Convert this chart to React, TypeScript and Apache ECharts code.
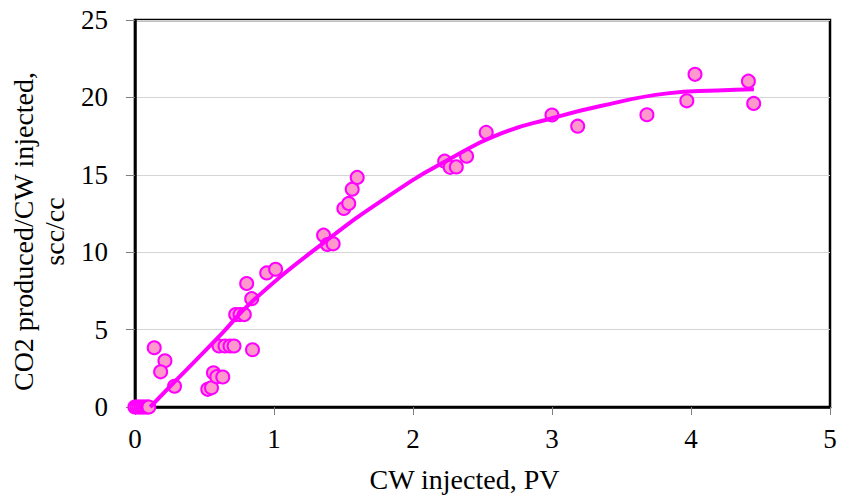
import React, { useEffect, useRef } from "react";
import * as echarts from "echarts";

// Measured points: CW injected (PV) vs CO2 produced / CW injected (scc/cc)
const pvInjected: number[] = [
  0, 0.015, 0.03, 0.045, 0.06, 0.075, 0.09, 0.1,
  0.139, 0.216, 0.185, 0.285,
  0.524, 0.551, 0.565, 0.589, 0.632,
  0.605, 0.648, 0.684, 0.713, 0.846,
  0.725, 0.756, 0.787, 0.804, 0.84,
  0.948, 1.012,
  1.357, 1.385, 1.426,
  1.503, 1.538, 1.563, 1.599,
  2.228, 2.268, 2.312, 2.386, 2.527,
  3.0, 3.185, 3.683, 3.97, 4.029, 4.413, 4.451,
];
const co2Ratio: number[] = [
  0, 0, 0, 0, 0, 0, 0, 0,
  3.83, 2.99, 2.27, 1.34,
  1.14, 1.24, 2.21, 1.96, 1.94,
  3.94, 3.94, 3.94, 3.94, 3.7,
  5.97, 5.97, 5.97, 7.98, 7.0,
  8.66, 8.9,
  11.1, 10.5, 10.54,
  12.82, 13.15, 14.07, 14.83,
  15.88, 15.48, 15.51, 16.2, 17.74,
  18.86, 18.14, 18.88, 19.78, 21.49, 21.05, 19.61,
];

// Trend curve
const trendX: number[] = [0.11, 0.285, 0.625, 0.84, 1.366, 1.845, 2.228, 2.635, 2.994, 3.35, 3.83, 4.19, 4.453];
const trendY: number[] = [0, 1.62, 4.74, 6.79, 10.67, 13.75, 15.84, 17.67, 18.64, 19.44, 20.26, 20.45, 20.52];

const xTicks = { min: 0, max: 5, interval: 1 };
const yTicks = { min: 0, max: 25, interval: 5 };

const xAxisTitle = "CW injected, PV";
const yAxisTitle = "CO2 produced/CW injected,\nscc/cc";

const FONT = "'Liberation Serif', 'Times New Roman', serif";

export default function App() {
  const ref = useRef<HTMLDivElement>(null);

  useEffect(() => {
    if (!ref.current) return;
    const chart = echarts.init(ref.current, null, { renderer: "svg" });
    const scatterData = pvInjected.map((x, i) => [x, co2Ratio[i]]);
    const trendData = trendX.map((x, i) => [x, trendY[i]]);

    chart.setOption({
      animation: false,
      backgroundColor: "#ffffff",
      grid: {
        left: 133,
        right: 11,
        top: 20,
        bottom: 93,
        show: true,
        borderColor: "#000000",
        borderWidth: 2.5,
        backgroundColor: "transparent",
      },
      xAxis: {
        type: "value",
        min: xTicks.min,
        max: xTicks.max,
        interval: xTicks.interval,
        name: xAxisTitle,
        nameLocation: "middle",
        nameGap: 58,
        nameTextStyle: {
          fontFamily: FONT,
          fontSize: 28,
          color: "#000000",
          padding: [0, 36, 0, 0],
        },
        axisLine: { show: true, lineStyle: { color: "#000000", width: 2.5 } },
        axisTick: { show: true, inside: false, length: 8, lineStyle: { color: "#808080", width: 1 } },
        axisLabel: { fontFamily: FONT, fontSize: 27, color: "#000000", margin: 18 },
        splitLine: { show: false },
      },
      yAxis: {
        type: "value",
        min: yTicks.min,
        max: yTicks.max,
        interval: yTicks.interval,
        name: yAxisTitle,
        nameLocation: "middle",
        nameGap: 53,
        nameTextStyle: {
          fontFamily: FONT,
          fontSize: 28,
          lineHeight: 31,
          color: "#000000",
          align: "center",
          padding: [0, 36, 0, 0],
        },
        axisLine: { show: true, lineStyle: { color: "#000000", width: 2.5 } },
        axisTick: { show: true, inside: false, length: 9, lineStyle: { color: "#808080", width: 1 } },
        axisLabel: { fontFamily: FONT, fontSize: 27, color: "#000000", margin: 27 },
        splitLine: { show: true, lineStyle: { color: "#d4d4d4", width: 1 } },
      },
      series: [
        {
          type: "scatter",
          data: scatterData,
          symbol: "circle",
          symbolSize: 13,
          clip: false,
          itemStyle: { color: "#ff99cc", borderColor: "#ff00ff", borderWidth: 2, opacity: 1 },
          z: 2,
        },
        {
          type: "line",
          data: trendData,
          smooth: true,
          showSymbol: false,
          symbol: "none",
          lineStyle: { color: "#ff00ff", width: 4 },
          z: 3,
        },
      ],
    });
    return () => chart.dispose();
  }, []);

  return (
    <div
      ref={ref}
      style={{ position: "fixed", left: 0, top: 0, width: 841, height: 500, background: "#fff" }}
    />
  );
}
